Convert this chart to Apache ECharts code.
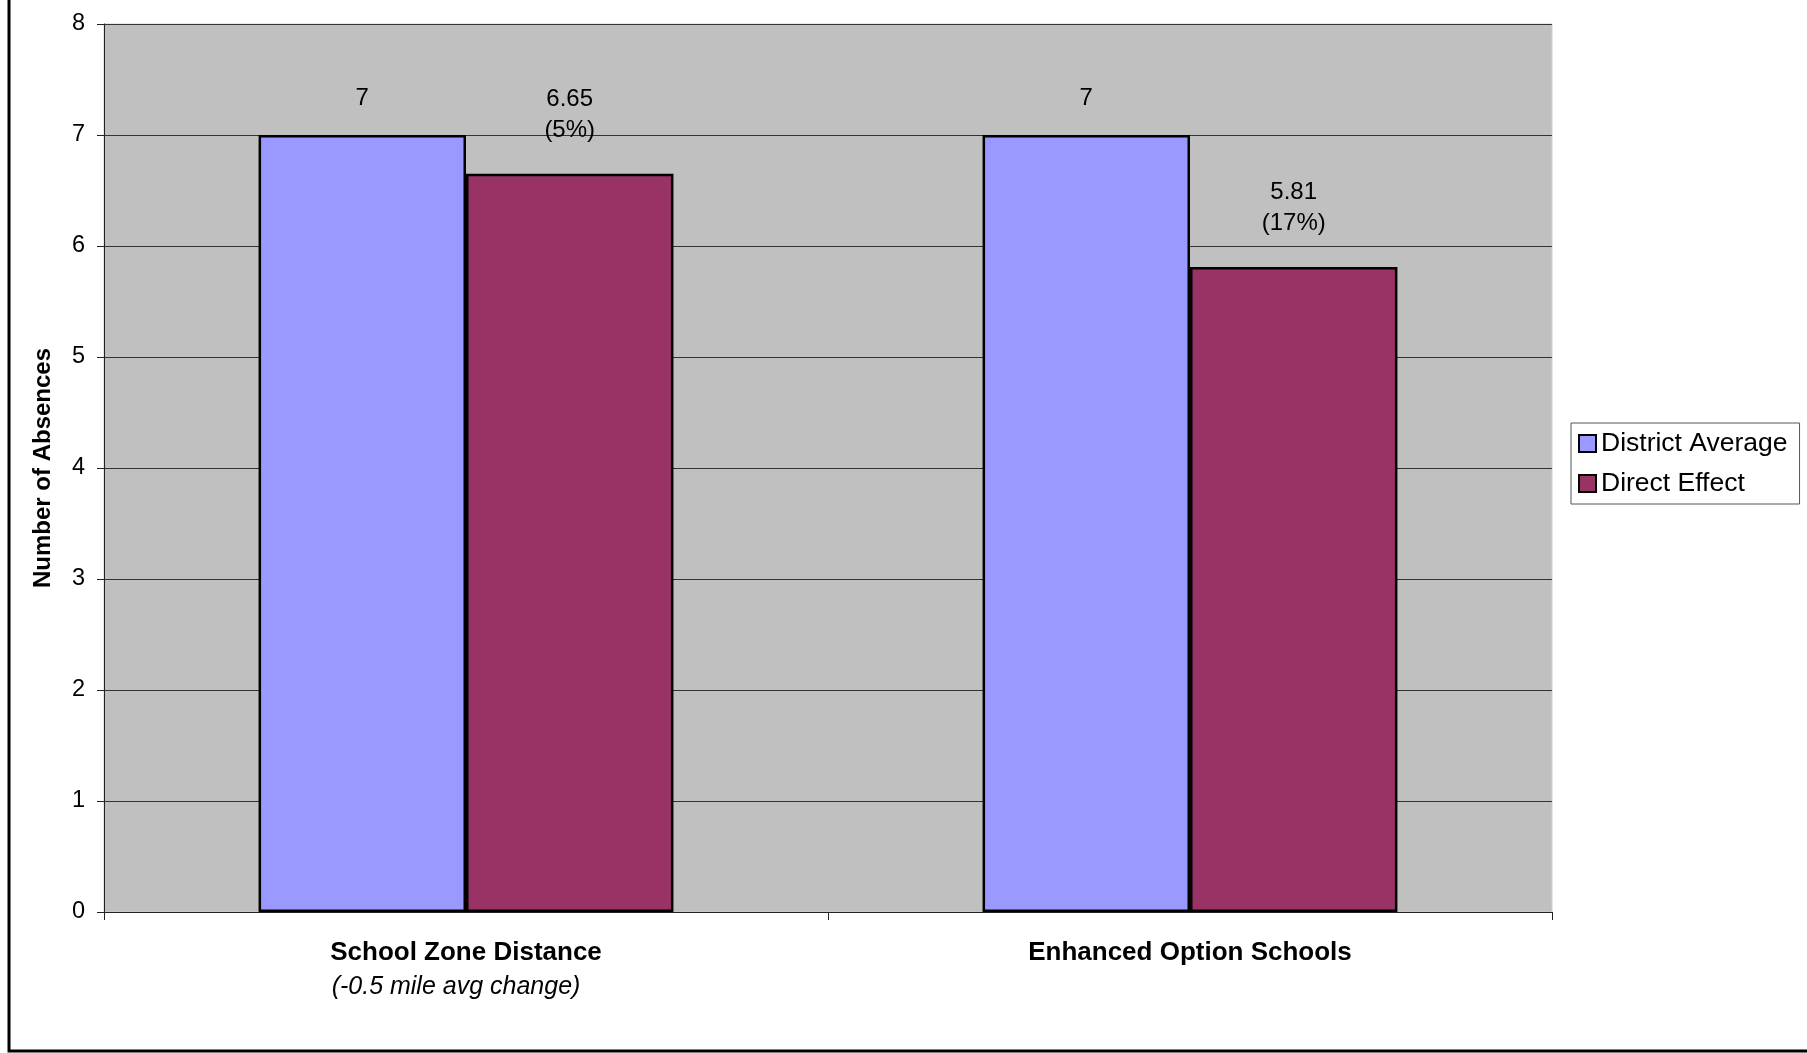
<!DOCTYPE html>
<html>
<head>
<meta charset="utf-8">
<title>Number of Absences</title>
<script src="https://cdn.jsdelivr.net/npm/echarts@6/dist/echarts.min.js"></script>
<style>
  html, body { margin: 0; padding: 0; background: #ffffff; }
  #chart { width: 1807px; height: 1053px; }
</style>
</head>
<body>
<div id="chart"></div>
<script>
// Chart data
const categories = ['School Zone Distance', 'Enhanced Option Schools'];
const categoryNotes = ['(-0.5 mile avg change)', ''];
const seriesNames = ['District Average', 'Direct Effect'];
const districtAverage = [7, 7];
const directEffect = [6.65, 5.81];
const percentReduction = ['5%', '17%'];
const yMin = 0;
const yMax = 8;
const yStep = 1;

const FONT = '"Liberation Sans", Arial, Helvetica, sans-serif';

const chart = echarts.init(document.getElementById('chart'), null, { renderer: 'canvas' });

chart.setOption({
  backgroundColor: '#ffffff',
  animation: false,
  textStyle: { fontFamily: FONT, color: '#000' },
  grid: {
    left: 104,
    top: 24,
    right: 255,
    bottom: 141,
    show: true,
    backgroundColor: '#C0C0C0',
    borderColor: '#d0d0d0',
    borderWidth: 1
  },
  legend: {
    orient: 'vertical',
    left: 1571,
    top: 423,
    padding: [7, 12, 7, 7],
    itemGap: 13,
    itemWidth: 17,
    itemHeight: 17,
    icon: 'rect',
    borderColor: '#555',
    borderWidth: 1,
    backgroundColor: '#ffffff',
    textStyle: { fontFamily: FONT, fontSize: 26.5, color: '#000' },
    data: seriesNames
  },
  xAxis: {
    type: 'category',
    data: categories,
    boundaryGap: true,
    axisLine: { show: true, lineStyle: { color: '#222', width: 1 } },
    axisTick: { show: true, alignWithLabel: false, interval: 0, length: 8, lineStyle: { color: '#222' } },
    axisLabel: {
      interval: 0,
      margin: 23,
      color: '#000',
      formatter: function (val, idx) {
        const note = categoryNotes[idx];
        return '{b|' + val + '}' + (note ? '\n{i|' + note + '}' : '');
      },
      rich: {
        b: { fontFamily: FONT, fontWeight: 'bold', fontSize: 26, lineHeight: 35, color: '#000' },
        i: { fontFamily: FONT, fontStyle: 'italic', fontSize: 25, lineHeight: 35, color: '#000', padding: [0, 20, 0, 0] }
      }
    },
    splitLine: { show: false }
  },
  yAxis: {
    type: 'value',
    min: yMin,
    max: yMax,
    interval: yStep,
    name: 'Number of Absences',
    nameLocation: 'middle',
    nameGap: 49,
    nameTextStyle: { fontFamily: FONT, fontWeight: 'bold', fontSize: 24, color: '#000' },
    axisLine: { show: true, lineStyle: { color: '#222', width: 1 } },
    axisTick: { show: true, length: 7, lineStyle: { color: '#222' } },
    axisLabel: { margin: 19, fontFamily: FONT, fontSize: 23.5, color: '#000' },
    splitLine: { show: true, lineStyle: { color: '#333333', width: 1 } }
  },
  series: [
    {
      name: seriesNames[0],
      type: 'bar',
      data: districtAverage,
      barGap: '0%',
      barCategoryGap: '42.7%',
      itemStyle: { color: '#9999FF', borderColor: '#000', borderWidth: 2.5 },
      label: {
        show: true,
        position: 'top',
        distance: 21,
        fontFamily: FONT,
        fontSize: 24,
        lineHeight: 31,
        color: '#000',
        formatter: function (p) { return String(districtAverage[p.dataIndex]); }
      }
    },
    {
      name: seriesNames[1],
      type: 'bar',
      data: directEffect,
      barGap: '0%',
      barCategoryGap: '42.7%',
      itemStyle: { color: '#993366', borderColor: '#000', borderWidth: 2.5 },
      label: {
        show: true,
        position: 'top',
        distance: 28,
        fontFamily: FONT,
        fontSize: 24,
        lineHeight: 31,
        color: '#000',
        formatter: function (p) {
          return directEffect[p.dataIndex] + '\n(' + percentReduction[p.dataIndex] + ')';
        }
      }
    }
  ],
  graphic: [
    {
      // outer chart frame
      type: 'rect',
      z: -1,
      silent: true,
      shape: { x: 9, y: -10, width: 1840, height: 1061 },
      style: { fill: 'none', stroke: '#000', lineWidth: 3 }
    }
  ]
});
</script>
</body>
</html>
